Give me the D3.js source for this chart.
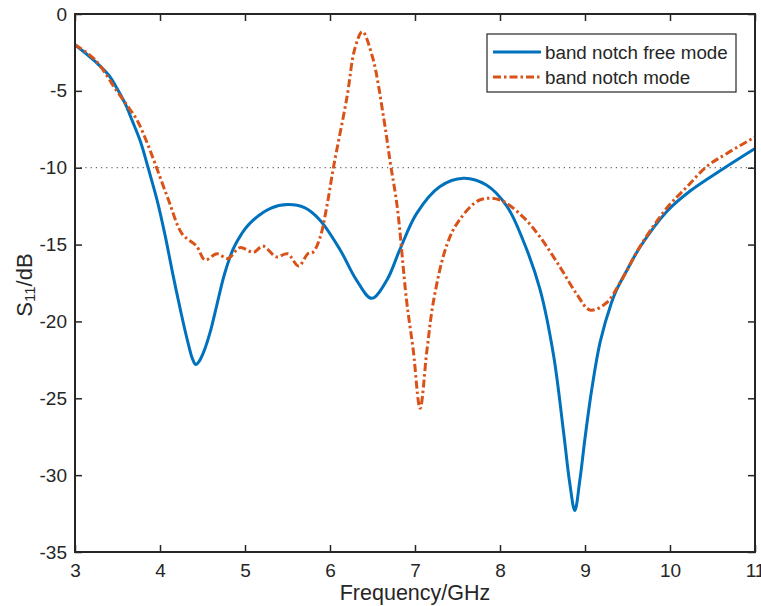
<!DOCTYPE html>
<html>
<head>
<meta charset="utf-8">
<script src="https://cdn.jsdelivr.net/npm/d3@7"></script>
<style>
  html, body { margin: 0; padding: 0; background: #fff; }
  svg { display: block; font-family: "Liberation Sans", Arial, Helvetica, sans-serif; }
</style>
</head>
<body>
<svg id="chart" width="761" height="606"></svg>
<script>
// ---- data ----
const freeFreq = [3.0, 3.24, 3.4, 3.51, 3.6, 3.67, 3.77, 3.86, 3.97, 4.06, 4.15, 4.25, 4.33, 4.38, 4.42, 4.46, 4.52, 4.59, 4.67, 4.76, 4.86, 4.96, 5.06, 5.3, 5.5, 5.7, 5.88, 6.12, 6.31, 6.49, 6.67, 6.82, 7.02, 7.29, 7.57, 7.84, 8.08, 8.27, 8.47, 8.63, 8.75, 8.82, 8.88, 8.94, 9.0, 9.08, 9.18, 9.31, 9.37, 9.5, 9.65, 9.96, 10.24, 10.63, 11.0];
const freeS11 = [-2.0, -3.1, -4.0, -5.0, -5.95, -6.9, -8.3, -10.0, -12.2, -14.4, -16.9, -19.5, -21.4, -22.4, -22.8, -22.6, -21.9, -20.7, -18.9, -16.9, -15.3, -14.3, -13.6, -12.65, -12.4, -12.6, -13.4, -15.35, -17.3, -18.5, -17.3, -15.35, -12.97, -11.24, -10.69, -11.13, -12.5, -14.7, -17.9, -22.2, -27.3, -30.5, -32.3, -30.3, -27.6, -24.4, -21.3, -18.8, -17.96, -16.6, -15.14, -12.86, -11.5, -10.05, -8.75];

const notchFreq = [3.0, 3.24, 3.49, 3.62, 3.73, 3.85, 3.96, 4.1, 4.26, 4.43, 4.53, 4.67, 4.8, 4.94, 5.1, 5.21, 5.37, 5.5, 5.63, 5.74, 5.8, 5.88, 5.96, 6.04, 6.2, 6.29, 6.38, 6.5, 6.63, 6.71, 6.79, 6.9, 6.98, 7.06, 7.14, 7.22, 7.37, 7.51, 7.76, 8.0, 8.27, 8.47, 8.71, 8.9, 9.06, 9.25, 9.41, 9.65, 9.96, 10.2, 10.43, 10.67, 11.0];
const notchS11 = [-2.0, -3.0, -5.0, -6.0, -6.9, -8.4, -10.0, -12.1, -14.3, -15.1, -16.0, -15.6, -15.9, -15.2, -15.5, -15.1, -15.8, -15.6, -16.4, -15.6, -15.5, -14.6, -12.6, -10.0, -5.4, -2.3, -1.15, -2.8, -6.7, -9.7, -12.5, -18.6, -21.9, -25.65, -21.9, -18.6, -15.1, -13.5, -12.1, -12.1, -13.2, -14.5, -16.5, -18.2, -19.26, -18.8, -17.5, -15.1, -12.64, -11.24, -9.93, -9.07, -8.0];

const xTicks = [3, 4, 5, 6, 7, 8, 9, 10, 11];
const yTicks = [0, -5, -10, -15, -20, -25, -30, -35];
const threshold = -10;
const seriesNames = ["band notch free mode", "band notch mode"];
const seriesColors = ["#0072BD", "#D95319"];

// ---- layout ----
const svg = d3.select("#chart");
const mLeft = 75, mRight = 755, mTop = 14, mBottom = 552;
const x = d3.scaleLinear().domain([3, 11]).range([mLeft, mRight]);
const y = d3.scaleLinear().domain([-35, 0]).range([mBottom, mTop]);
const axisColor = "#262626";
const tickLen = 7;

// threshold dotted line
svg.append("line")
  .attr("x1", x(3)).attr("x2", x(11))
  .attr("y1", y(threshold)).attr("y2", y(threshold))
  .attr("stroke", "#666").attr("stroke-width", 1.2)
  .attr("stroke-dasharray", "1.2,4");

svg.append("defs").append("clipPath").attr("id", "clip")
  .append("rect").attr("x", mLeft).attr("y", mTop).attr("width", mRight - mLeft).attr("height", mBottom - mTop);

const line = d3.line().x(d => x(d[0])).y(d => y(d[1])).curve(d3.curveCatmullRom.alpha(0.5));

const freeData = freeFreq.map((f, i) => [f, freeS11[i]]);
const notchData = notchFreq.map((f, i) => [f, notchS11[i]]);

const g = svg.append("g").attr("clip-path", "url(#clip)");
g.append("path").datum(freeData).attr("d", line)
  .attr("fill", "none").attr("stroke", seriesColors[0]).attr("stroke-width", 3)
  .attr("stroke-linejoin", "round");
g.append("path").datum(notchData).attr("d", line)
  .attr("fill", "none").attr("stroke", seriesColors[1]).attr("stroke-width", 3)
  .attr("stroke-dasharray", "8,3,2.5,3");

// axes (ticks inward, mirrored)
const fmt = d => (d < 0 ? "-" + Math.abs(d) : String(d));
const axB = svg.append("g").attr("transform", `translate(0,${mBottom})`)
  .call(d3.axisBottom(x).tickValues(xTicks).tickSize(-tickLen).tickPadding(12).tickFormat(fmt));
const axT = svg.append("g").attr("transform", `translate(0,${mTop})`)
  .call(d3.axisTop(x).tickValues(xTicks).tickSize(-tickLen).tickFormat(""));
const axL = svg.append("g").attr("transform", `translate(${mLeft},0)`)
  .call(d3.axisLeft(y).tickValues(yTicks).tickSize(-tickLen).tickPadding(8).tickFormat(fmt));
const axR = svg.append("g").attr("transform", `translate(${mRight},0)`)
  .call(d3.axisRight(y).tickValues(yTicks).tickSize(-tickLen).tickFormat(""));

[axB, axT, axL, axR].forEach(a => {
  a.select(".domain").remove();
  a.selectAll(".tick line").attr("stroke", axisColor).attr("stroke-width", 1.5);
  a.selectAll(".tick text").attr("fill", axisColor).style("font-size", "19px")
    .style("font-family", "'Liberation Sans', Arial, sans-serif");
});
axB.selectAll(".tick text").attr("dy", "0.71em");

svg.append("rect").attr("x", mLeft).attr("y", mTop)
  .attr("width", mRight - mLeft).attr("height", mBottom - mTop)
  .attr("fill", "none").attr("stroke", axisColor).attr("stroke-width", 2);

// axis titles
svg.append("text").attr("x", 415).attr("y", 600)
  .attr("text-anchor", "middle").attr("fill", axisColor)
  .style("font-size", "21.5px").text("Frequency/GHz");

const yt = svg.append("text").attr("transform", `translate(32,285) rotate(-90)`)
  .attr("text-anchor", "middle").attr("fill", axisColor).style("font-size", "22px");
yt.append("tspan").text("S");
yt.append("tspan").text("11").style("font-size", "15px").attr("dy", 3);
yt.append("tspan").text("/dB").attr("dy", -3);

// legend
const lg = svg.append("g");
lg.append("rect").attr("x", 487).attr("y", 34).attr("width", 249).attr("height", 58)
  .attr("fill", "#fff").attr("stroke", axisColor).attr("stroke-width", 1.2);
const rows = [52, 77];
seriesNames.forEach((name, i) => {
  lg.append("line").attr("x1", 493).attr("x2", 541).attr("y1", rows[i]).attr("y2", rows[i])
    .attr("stroke", seriesColors[i]).attr("stroke-width", 3)
    .attr("stroke-dasharray", i === 1 ? "8,3,2.5,3" : null);
  lg.append("text").attr("x", 545).attr("y", rows[i]).attr("dy", "0.35em")
    .attr("fill", axisColor).style("font-size", "18.8px").text(name);
});
</script>
</body>
</html>
